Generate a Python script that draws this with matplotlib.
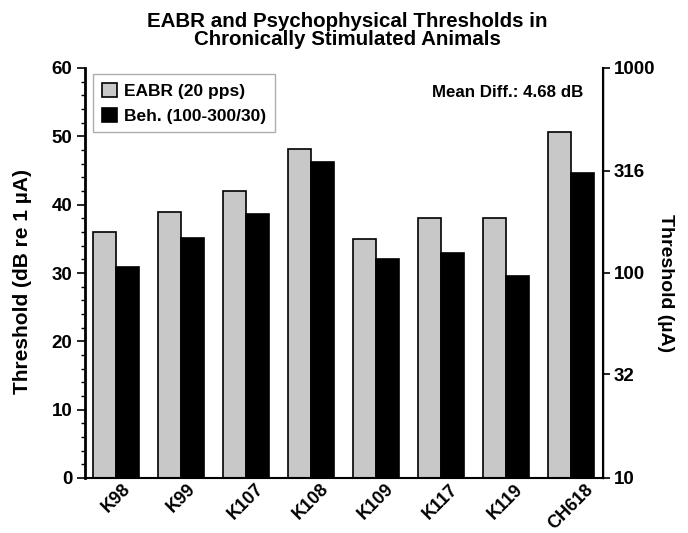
import numpy as np
import matplotlib
matplotlib.use("Agg")
from matplotlib import pyplot as plt
from matplotlib.ticker import MultipleLocator, FixedLocator, FixedFormatter

plt.rcParams['font.family'] = ['Liberation Sans', 'DejaVu Sans']
plt.rcParams['font.weight'] = 'bold'

# donnees
animaux = ["K98", "K99", "K107", "K108", "K109", "K117", "K119", "CH618"]
eabr = [36.0, 39.0, 42.0, 48.1, 35.0, 38.0, 38.0, 50.7]
beh = [30.9, 35.1, 38.6, 46.2, 32.0, 32.9, 29.6, 44.7]
ticks_droite = [10, 32, 100, 316, 1000]

fig = plt.figure(figsize=(6.88, 5.33), dpi=100)
ax = fig.add_axes([85 / 688, 55 / 533, 518 / 688, 410 / 533])

x = np.arange(len(animaux))
w = 0.355
ax.bar(x - w / 2, eabr, w, color="#c8c8c8", edgecolor="black", linewidth=1.2,
       label="EABR (20 pps)")
ax.bar(x + w / 2, beh, w, color="black", edgecolor="black", linewidth=1.2,
       label="Beh. (100-300/30)")

ax.set_xlim(-0.48, 7.5)
ax.set_ylim(0, 60)
ax.yaxis.set_major_locator(MultipleLocator(10))
ax.yaxis.set_minor_locator(MultipleLocator(2))
ax.tick_params(axis="y", which="major", direction="out", length=6, width=1.2,
               labelsize=13.5, pad=3)
ax.tick_params(axis="y", which="minor", direction="out", length=3, width=1.0)
ax.set_xticks(x)
ax.set_xticklabels(animaux, rotation=45, fontsize=13, fontweight="bold")
ax.tick_params(axis="x", length=0, pad=2)
ax.spines["top"].set_visible(False)
ax.spines["left"].set_linewidth(2)
ax.spines["bottom"].set_linewidth(1.5)
ax.spines["right"].set_linewidth(1.0)
ax.set_ylabel("Threshold (dB re 1 µA)", fontsize=15, fontweight="bold")
ax.yaxis.set_label_coords(-0.102, 0.48)

# axe de droite en microampere (log)
ax2 = ax.twinx()
ax2.set_yscale("log")
ax2.set_ylim(10, 1000)
ax2.yaxis.set_major_locator(FixedLocator(ticks_droite))
ax2.yaxis.set_major_formatter(FixedFormatter([str(t) for t in ticks_droite]))
ax2.yaxis.set_minor_locator(FixedLocator([]))
ax2.tick_params(axis="y", direction="out", length=5, width=1.2, labelsize=13.5, pad=3)
ax2.spines["top"].set_visible(False)
ax2.spines["left"].set_visible(False)
ax2.spines["bottom"].set_visible(False)
ax2.spines["right"].set_linewidth(1.5)
ax2.set_ylabel("Threshold (µA)", fontsize=14, fontweight="bold", rotation=270,
               va="center")
ax2.yaxis.set_label_coords(1.12, 0.475)

leg = ax.legend(loc="upper left", bbox_to_anchor=(8 / 518, 1 - 6 / 410),
                borderaxespad=0, fontsize=12.5,
                frameon=True, fancybox=False, edgecolor="#999999",
                handlelength=0.9, handleheight=0.9, handletextpad=0.4,
                borderpad=0.5, labelspacing=0.5)
leg.get_frame().set_linewidth(1.0)
for t in leg.get_texts():
    t.set_fontweight("bold")

ax.text(0.962, 0.94, "Mean Diff.: 4.68 dB", transform=ax.transAxes, ha="right",
        va="center", fontsize=12.2, fontweight="bold")

fig.text(0.505, 1 - 12 / 533,
         "EABR and Psychophysical Thresholds in\nChronically Stimulated Animals",
         ha="center", va="top", fontsize=14.8, fontweight="bold", linespacing=0.92)

fig.savefig("out.png", dpi=100)
